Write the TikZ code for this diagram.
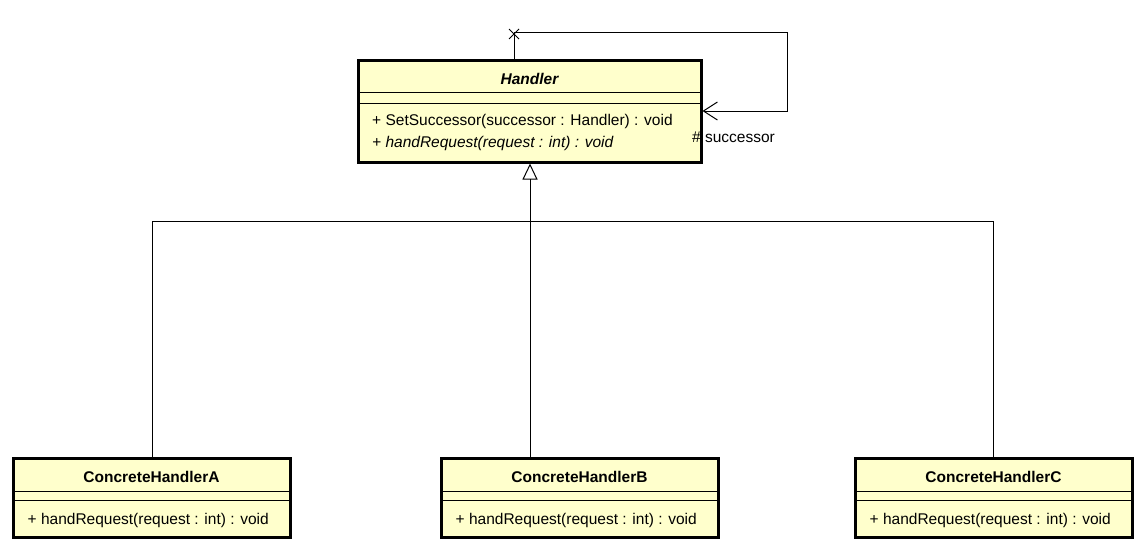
\documentclass[tikz,border=0pt]{standalone}
\usepackage{fontspec}
\setmainfont{Liberation Sans}
\usetikzlibrary{arrows.meta}
\definecolor{umlfill}{RGB}{255,255,204}
\tikzset{
  cls/.style={draw=black, line width=3pt, fill=umlfill, rectangle, inner sep=0pt},
  sep/.style={line width=0.9pt},
  conn/.style={line width=1pt},
  txt/.style={inner sep=0pt, font=\fontsize{15.5}{18}\selectfont},
  mth/.style={txt, anchor=west},
}
\begin{document}
\begin{tikzpicture}[x=1pt,y=-1pt]
\useasboundingbox (0,0) rectangle (1145,550);
% Handler
\node[cls, minimum width=343pt, minimum height=102pt] (H) at (529.5,111) {};
\draw[sep] (358,92) -- (701,92);
\draw[sep] (358,103) -- (701,103);
\node[txt, font=\fontsize{15.5}{18}\selectfont\bfseries\itshape] (Hn) at (529.5,79) {Handler};
\node[mth] (Hm1) at (372,121.5) {+ SetSuccessor(successor : Handler) : void};
\node[mth] (Hm2) at (372,143.5) {\itshape + handRequest(request : int) : void};
% Concrete classes
\foreach \n/\cx/\lab in {A/151.5/ConcreteHandlerA, B/579.5/ConcreteHandlerB, C/993.5/ConcreteHandlerC}{
  \node[cls, minimum width=277pt, minimum height=79pt] (\n) at (\cx,498) {};
  \draw[sep] ([xshift=-138.5pt]\cx,491) -- ([xshift=138.5pt]\cx,491);
  \draw[sep] ([xshift=-138.5pt]\cx,500) -- ([xshift=138.5pt]\cx,500);
  \node[txt, font=\fontsize{15.5}{18}\selectfont\bfseries] (\n name) at (\cx,477) {\lab};
  \node[mth] (\n m) at ([xshift=-124pt]\cx,520.5) {+ handRequest(request : int) : void};
}
% Generalization
\coordinate (ja) at (152,221);
\coordinate (jb) at (530,221);
\coordinate (jc) at (993,221);
\draw[conn] (ja) -- (jc);
\draw[conn] (A.north -| ja) -- (ja);
\draw[conn] (B.north -| jb) -- (jb);
\draw[conn] (C.north -| jc) -- (jc);
\draw[conn, -{Triangle[open, length=16pt, width=15pt, line width=1pt]}] (jb) -- (H.south -| jb);
% Self association
\coordinate (s1) at (514,32);
\coordinate (s2) at (787,32);
\coordinate (s3) at (787,111);
\draw[conn, -{Straight Barb[length=14pt, width=18pt, line width=1pt]}] (H.north -| s1) -- (s1) -- (s2) -- (s3) -- (H.east |- s3);
\coordinate (x1) at (514,34);
\draw[conn] ([xshift=-5pt,yshift=-5pt]x1) -- ([xshift=5pt,yshift=5pt]x1);
\draw[conn] ([xshift=-5pt,yshift=5pt]x1) -- ([xshift=5pt,yshift=-5pt]x1);
\node[mth] (lab) at (692,137.5) {\# successor};
\end{tikzpicture}
\end{document}
